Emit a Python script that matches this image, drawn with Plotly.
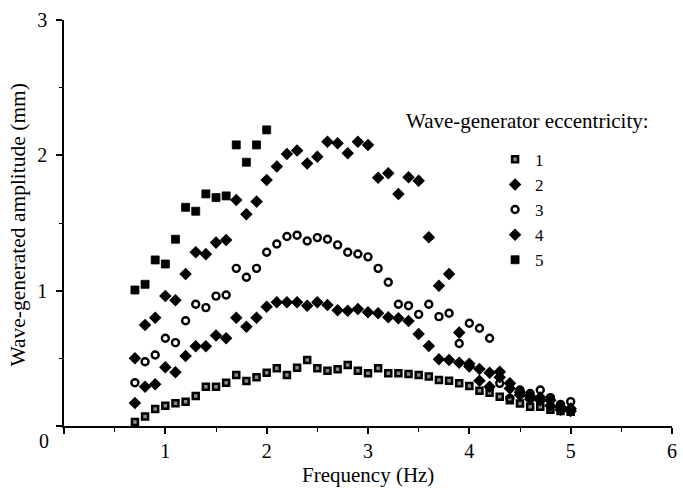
import plotly.graph_objects as go

# ---- data ----
freq = [0.7, 0.8, 0.9, 1.0, 1.1, 1.2, 1.3, 1.4, 1.5, 1.6, 1.7, 1.8, 1.9, 2.0,
        2.1, 2.2, 2.3, 2.4, 2.5, 2.6, 2.7, 2.8, 2.9, 3.0, 3.1, 3.2, 3.3, 3.4,
        3.5, 3.6, 3.7, 3.8, 3.9, 4.0, 4.1, 4.2, 4.3, 4.4, 4.5, 4.6, 4.7, 4.8,
        4.9, 5.0]

ecc1 = [0.03, 0.07, 0.126, 0.15, 0.168, 0.18, 0.222, 0.29, 0.29, 0.32, 0.377,
        0.333, 0.36, 0.394, 0.426, 0.377, 0.431, 0.488, 0.426, 0.409, 0.419,
        0.451, 0.409, 0.389, 0.426, 0.389, 0.389, 0.384, 0.377, 0.365, 0.34,
        0.335, 0.315, 0.296, 0.26, 0.246, 0.217, 0.19, 0.167, 0.143, 0.143,
        0.12, 0.11, 0.106]

ecc2 = [0.17, 0.29, 0.308, 0.434, 0.397, 0.517, 0.59, 0.59, 0.668, 0.648, 0.80,
        0.734, 0.80, 0.882, 0.914, 0.914, 0.914, 0.889, 0.914, 0.894, 0.855,
        0.852, 0.865, 0.84, 0.833, 0.803, 0.796, 0.776, 0.68, 0.591, 0.493,
        0.488, 0.468, 0.46, 0.421, 0.394, 0.40, 0.315, 0.25, 0.22, 0.21, 0.19,
        0.14, 0.13]

ecc3 = [0.32, 0.475, 0.525, 0.648, 0.616, 0.778, 0.90, 0.875, 0.96, 0.968,
        1.165, 1.099, 1.165, 1.284, 1.345, 1.40, 1.41, 1.367, 1.392, 1.38,
        1.338, 1.284, 1.271, 1.25, 1.165, 1.062, 0.90, 0.889, 0.825, 0.90,
        0.808, 0.833, 0.61, 0.759, 0.722, 0.648, 0.315, 0.204, 0.266, 0.24,
        0.266, 0.21, 0.16, 0.18]

ecc4 = [0.50, 0.746, 0.80, 0.96, 0.93, 1.123, 1.284, 1.27, 1.355, 1.375, 1.67,
        1.564, 1.658, 1.818, 1.917, 2.01, 2.035, 1.94, 1.99, 2.10, 2.09, 2.015,
        2.10, 2.077, 1.835, 1.867, 1.715, 1.838, 1.813, 1.394, 1.037, 1.123,
        0.69, 0.44, 0.335, 0.29, 0.36, 0.278, 0.229, 0.20, 0.19, 0.15, 0.12,
        0.11]

freq5 = [0.7, 0.8, 0.9, 1.0, 1.1, 1.2, 1.3, 1.4, 1.5, 1.6, 1.7, 1.8, 1.9, 2.0]
ecc5 = [1.005, 1.047, 1.227, 1.197, 1.38, 1.616, 1.587, 1.715, 1.688, 1.70,
        2.077, 1.949, 2.077, 2.188]

x_tickvals = [0, 1, 2, 3, 4, 5, 6]
x_ticktext = ["", "1", "2", "3", "4", "5", "6"]
y_tickvals = [0, 1, 2, 3]
y_ticktext = ["", "1", "2", "3"]

FONT = "Liberation Serif, Times New Roman, serif"

fig = go.Figure()

fig.add_trace(go.Scatter(
    x=freq, y=ecc1, mode="markers", name="1",
    marker=dict(symbol="square", size=6, color="#8a8a8a",
                line=dict(color="black", width=2.5))))
fig.add_trace(go.Scatter(
    x=freq, y=ecc2, mode="markers", name="2",
    marker=dict(symbol="diamond", size=8, color="black",
                line=dict(color="black", width=1.5))))
fig.add_trace(go.Scatter(
    x=freq, y=ecc3, mode="markers", name="3",
    marker=dict(symbol="circle-open", size=7, color="black",
                line=dict(color="black", width=2.4))))
fig.add_trace(go.Scatter(
    x=freq, y=ecc4, mode="markers", name="4",
    marker=dict(symbol="diamond", size=8, color="black",
                line=dict(color="black", width=1.5))))
fig.add_trace(go.Scatter(
    x=freq5, y=ecc5, mode="markers", name="5",
    marker=dict(symbol="square", size=8, color="black",
                line=dict(color="black", width=0.8))))

fig.update_layout(
    width=683, height=488,
    margin=dict(l=64, r=6, t=20, b=62),
    paper_bgcolor="white", plot_bgcolor="white",
    font=dict(family=FONT, size=20, color="black"),
    showlegend=True,
    legend=dict(x=0.709, y=0.7, xanchor="left", yanchor="top",
                font=dict(family=FONT, size=17, color="black"),
                bgcolor="rgba(0,0,0,0)", borderwidth=0,
                itemwidth=30, tracegroupgap=0),
    xaxis=dict(range=[0, 6], showgrid=False, zeroline=False,
               showline=True, linecolor="black", linewidth=1.6,
               ticks="outside", ticklen=6, tickwidth=1.5, tickcolor="black",
               tickvals=x_tickvals, ticktext=x_ticktext,
               tickfont=dict(family=FONT, size=20),
               minor=dict(dtick=0.5, ticks="outside", ticklen=4,
                          tickwidth=1.2, tickcolor="black")),
    yaxis=dict(range=[0, 3], showgrid=False, zeroline=False,
               showline=True, linecolor="black", linewidth=1.6,
               ticks="outside", ticklen=6, tickwidth=1.5, tickcolor="black",
               tickvals=y_tickvals, ticktext=y_ticktext,
               tickfont=dict(family=FONT, size=20),
               ticklabelstandoff=5,
               minor=dict(dtick=0.5, ticks="outside", ticklen=3,
                          tickwidth=1.2, tickcolor="black")),
    annotations=[
        dict(text="0", xref="paper", yref="paper", x=-0.033, y=-0.036,
             xanchor="center", yanchor="middle", showarrow=False,
             font=dict(family=FONT, size=20)),
        dict(text="Frequency (Hz)", xref="paper", yref="paper", x=0.5,
             y=-0.121, xanchor="center", yanchor="middle", showarrow=False,
             font=dict(family=FONT, size=21)),
        dict(text="Wave-generated amplitude (mm)", xref="paper",
             yref="paper", x=-0.075, y=0.497, xanchor="center",
             yanchor="middle", textangle=-90, showarrow=False,
             font=dict(family=FONT, size=21.5)),
        dict(text="Wave-generator eccentricity:", xref="paper",
             yref="paper", x=0.5595, y=0.752, xanchor="left",
             yanchor="middle", showarrow=False,
             font=dict(family=FONT, size=21)),
    ],
)

fig.write_html("out.html")
